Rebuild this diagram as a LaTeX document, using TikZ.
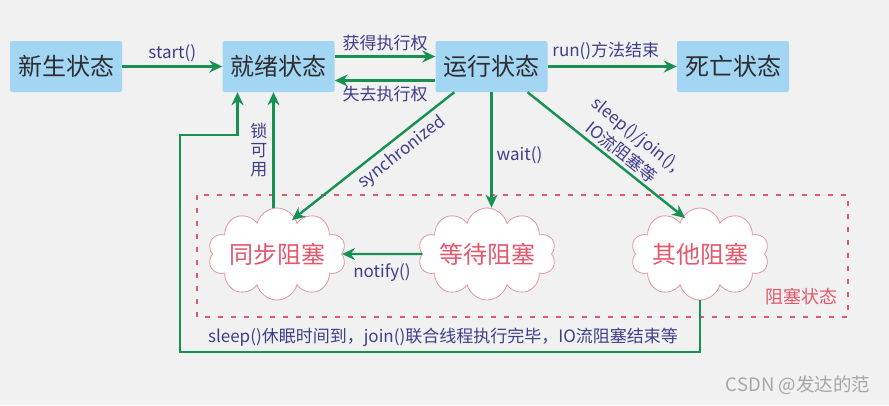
\documentclass[tikz,border=0pt]{standalone}
\usepackage{fontspec}
\setmainfont{Noto Sans CJK SC}
\usetikzlibrary{shapes.symbols,arrows.meta}
\definecolor{boxfill}{RGB}{163,214,243}
\definecolor{arrgreen}{RGB}{22,145,82}
\definecolor{lblblue}{RGB}{62,62,140}
\definecolor{txtgray}{RGB}{45,45,50}
\definecolor{pinkred}{RGB}{228,88,108}
\definecolor{cloudline}{RGB}{225,150,160}
\definecolor{bg}{RGB}{241,241,241}
\tikzset{
  statebox/.style={fill=boxfill, rounded corners=2pt, minimum width=112pt, minimum height=51pt,
    inner sep=0pt, text=txtgray, font=\fontsize{24}{28}\selectfont},
  blockcloud/.style={cloud, cloud puffs=10, cloud ignores aspect, fill=white, draw=cloudline,
    line width=0.8pt, minimum width=138pt, minimum height=92pt, inner sep=0pt,
    text=pinkred, font=\fontsize{24}{28}\selectfont},
  arr/.style={draw=arrgreen, line width=2.4pt, -{Stealth[length=13pt,width=12pt]}},
  lbl/.style={text=lblblue, font=\fontsize{17}{20}\selectfont, inner sep=2pt},
  dashedbox/.style={draw=pinkred, line width=1.6pt, dash pattern=on 5pt off 8pt},
}
\begin{document}
\begin{tikzpicture}[x=1pt,y=-1pt]
\fill[bg] (0,0) rectangle (889,405);
\useasboundingbox (0,0) rectangle (889,405);

\draw[dashedbox] (197,195) rectangle (848,317);
\node[text=pinkred, font=\fontsize{18}{20}\selectfont] (zslabel) at (801,297) {阻塞状态};

\node[statebox] (new) at (66,66.5) {新生状态};
\node[statebox] (ready) at (278.5,66.5) {就绪状态};
\node[statebox] (run) at (491.5,66.5) {运行状态};
\node[statebox] (dead) at (733,66.5) {死亡状态};

\node[blockcloud] (sync) at (277,254) {同步阻塞};
\node[blockcloud] (wait) at (487,254) {等待阻塞};
\node[blockcloud] (other) at (700,254) {其他阻塞};

\draw[arr] (new) -- node[lbl, above=1pt] {start()} (ready);
\draw[arr] ([yshift=10pt]ready.east) -- node[lbl, above=2pt] {获得执行权} ([yshift=10pt]run.west);
\draw[arr] ([yshift=-14pt]run.west) -- node[lbl, below=2pt] {失去执行权} ([yshift=-14pt]ready.east);
\draw[arr] (run) -- node[lbl, above=3pt, pos=0.45] {run()方法结束} (dead);

\draw[arr] ([xshift=19pt]run.south west) -- node[lbl, sloped, below=3pt, pos=0.38] {synchronized} ([xshift=15pt,yshift=34pt]sync.center);
\draw[arr] (run.south) -- node[lbl, right=2pt, pos=0.55] {wait()} (run.south |- wait.north);
\draw[arr] ([xshift=36pt]run.south) -- node[lbl, sloped, above=1pt, pos=0.55, align=center, font=\fontsize{17}{23}\selectfont] {sleep()/join(),\\IO流阻塞等} ([xshift=-15pt,yshift=36pt]other.center);

\draw[arr] ([xshift=-5pt]ready.south |- sync.north) -- node[lbl, left=3pt, pos=0.5, align=center, font=\fontsize{17}{19}\selectfont] {锁\\可\\用} ([xshift=-5pt]ready.south);

\draw[arr] (wait.west) -- node[lbl, below=6pt] {notify()} (sync.east);

\coordinate (lb) at (180,352);
\coordinate (lt) at (180,135);
\draw[arr] (other.south) |- (lb) -- (lt) -| ([xshift=-41pt]ready.south);
\node[lbl] (loopt) at (443,337) {sleep()休眠时间到，join()联合线程执行完毕，IO流阻塞结束等};

\node[text=gray!70, font=\fontsize{18.5}{20}\selectfont] (wm) at (798,385) {CSDN @发达的范};
\end{tikzpicture}
\end{document}
